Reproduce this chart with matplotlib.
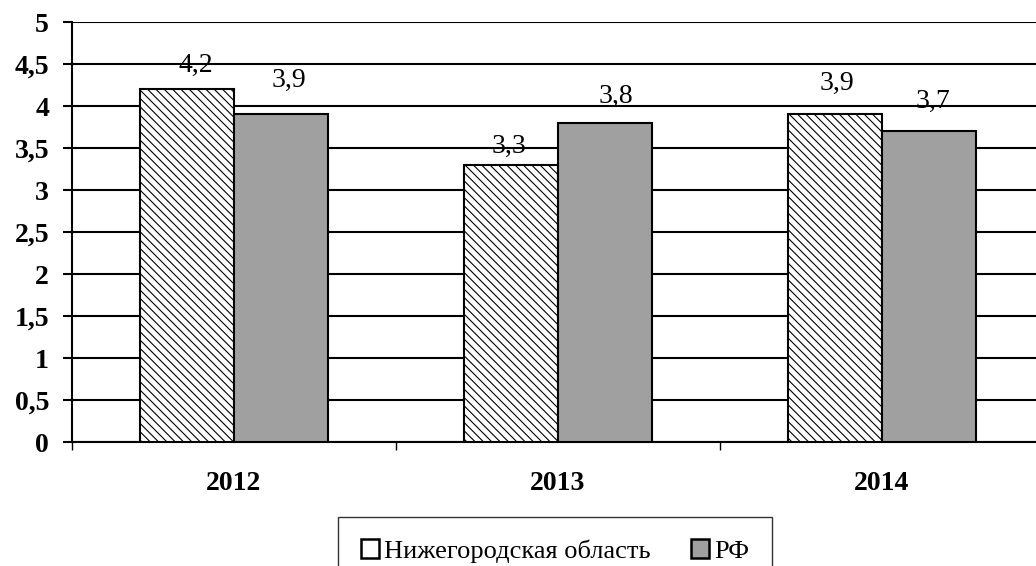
import matplotlib
matplotlib.use("Agg")
import matplotlib.pyplot as plt
import numpy as np

years = ["2012", "2013", "2014"]
region_values = [4.2, 3.3, 3.9]
russia_values = [3.9, 3.8, 3.7]
series_names = ["Нижегородская область", "РФ"]
y_ticks = [0, 0.5, 1, 1.5, 2, 2.5, 3, 3.5, 4, 4.5, 5]

# value-label placement (points) relative to each bar's top centre
region_label_dx = [6, -1.5, 1.5]
region_label_dy = [12.4, 8.5, 17.6]
russia_label_dx = [6, 8, 3]
russia_label_dy = [19.7, 14.3, 16.7]

plt.rcParams["font.family"] = ["Liberation Serif", "DejaVu Serif"]
plt.rcParams["hatch.color"] = "#949494"
plt.rcParams["hatch.linewidth"] = 0.8

fig = plt.figure(figsize=(10.36, 5.66), dpi=100)
ax = fig.add_axes([72 / 1036, 124 / 566, 972 / 1036, 420 / 566])

x = np.arange(len(years))
w = 0.29
b1 = ax.bar(x - w / 2, region_values, w, color="white", edgecolor="black",
            linewidth=1.5, hatch="\\\\\\\\", zorder=3, label=series_names[0])
b2 = ax.bar(x + w / 2, russia_values, w, color="#a0a0a0", edgecolor="black",
            linewidth=1.5, zorder=3, label=series_names[1])


def fmt(v):
    return f"{v:.1f}".replace(".", ",")


for xs, vals, dxs, dys in ((x - w / 2, region_values, region_label_dx, region_label_dy),
                           (x + w / 2, russia_values, russia_label_dx, russia_label_dy)):
    for xi, v, dx, dy in zip(xs, vals, dxs, dys):
        ax.annotate(fmt(v), (xi, v), xytext=(dx, dy), textcoords="offset points",
                    ha="center", va="baseline", fontsize=20, zorder=5)

ax.set_xlim(-0.5, 2.5)
ax.set_ylim(0, 5)
ax.set_yticks(y_ticks)
ax.set_yticklabels([fmt(t).replace(",0", "") for t in y_ticks],
                   fontsize=20, fontweight="bold")
ax.yaxis.grid(True, color="black", linewidth=1.5, zorder=0)
ax.set_axisbelow(True)

ax.set_xticks([-0.5, 0.5, 1.5])
ax.set_xticklabels([])
ax.set_xticks(x, minor=True)
ax.set_xticklabels(years, minor=True, fontsize=20, fontweight="bold")
ax.tick_params(axis="x", which="major", length=6, width=1, direction="out")
ax.tick_params(axis="x", which="minor", length=0, pad=21)
ax.tick_params(axis="y", length=6.5, width=1.5, pad=10)

for s in ["top", "right"]:
    ax.spines[s].set_visible(False)
ax.spines["left"].set_linewidth(1.5)
ax.spines["bottom"].set_linewidth(1.5)

leg = fig.legend(handles=[b1, b2], loc="upper center",
                 bbox_to_anchor=(555 / 1036, 1 - 517 / 566), ncol=2,
                 fontsize=19, frameon=True, fancybox=False, edgecolor="black",
                 handlelength=0.7, handleheight=0.7, handletextpad=0.2,
                 columnspacing=1.5, borderpad=0.85, borderaxespad=0)
leg.get_frame().set_linewidth(1.0)
for h in leg.legend_handles:
    h.set_hatch(None)
    h.set_linewidth(1.8)

fig.savefig("out.png", dpi=100)
